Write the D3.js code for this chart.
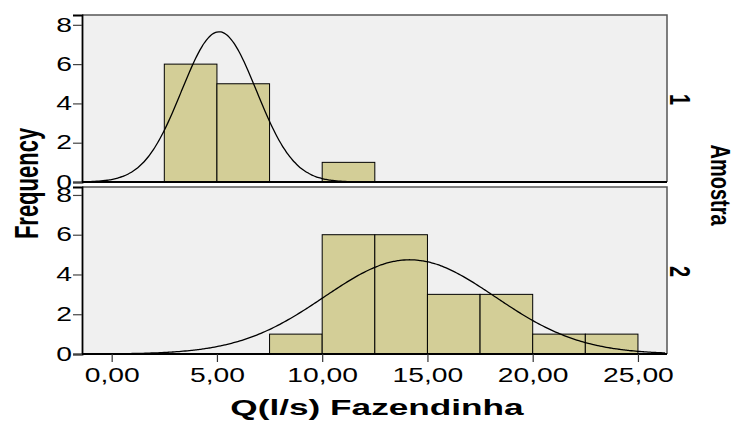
<!DOCTYPE html>
<html lang="en">
<head>
    <meta charset="UTF-8">
    <title>Q(l/s) Fazendinha por Amostra</title>
    <script src="https://d3js.org/d3.v7.min.js"></script>
    <style>
        body {
            margin: 0;
            background: #fff;
        }
        svg text {
            font-family: "Liberation Sans", Arial, sans-serif;
            fill: #000;
        }
        .panel-bg {
            fill: #f0f0f0;
        }
        .bar {
            fill: #d3ce97;
            stroke: #000;
            stroke-width: 1px;
        }
        .curve {
            fill: none;
            stroke: #000;
            stroke-width: 1.3px;
        }
    </style>
</head>
<body>
<div id="chart"></div>

<script>
    const binStarts1 = [2.5, 5, 10];
    const counts1 = [6, 5, 1];
    const binStarts2 = [7.5, 10, 12.5, 15, 17.5, 20, 22.5];
    const counts2 = [1, 6, 6, 3, 3, 1, 1];
    const binWidth = 2.5;

    // fitted normal curves (mean, sd, peak height)
    const curve1 = { mean: 5.1, sd: 1.78, peak: 7.65 };
    const curve2 = { mean: 14.16, sd: 4.06, peak: 4.74 };

    const xTicks = [0, 5, 10, 15, 20, 25];
    const yTicks = [0, 2, 4, 6, 8];
    const panelLabels = ["1", "2"];

    const width = 737, height = 426;
    const stretch = 1.45; // the original output is wide, text too

    const svg = d3.select("#chart").append("svg")
        .attr("width", width)
        .attr("height", height);

    const x = d3.scaleLinear().domain([-1.41, 26.38]).range([82, 667]);

    const panels = [
        { starts: binStarts1, counts: counts1, curve: curve1, y: d3.scaleLinear().domain([0, 8.5]).range([182, 15]), label: panelLabels[0] },
        { starts: binStarts2, counts: counts2, curve: curve2, y: d3.scaleLinear().domain([0, 8.4]).range([354, 187]), label: panelLabels[1] }
    ];

    const fmt = d3.format(",.2f");
    const commaFmt = v => fmt(v).replace(".", ",");

    panels.forEach((p, i) => {
        const g = svg.append("g");
        const [y0, y1] = p.y.range();

        g.append("rect")
            .attr("class", "panel-bg")
            .attr("x", x.range()[0])
            .attr("y", y1)
            .attr("width", x.range()[1] - x.range()[0])
            .attr("height", y0 - y1);

        g.selectAll(".bar")
            .data(p.starts.map((s, j) => ({ s: s, c: p.counts[j] })))
            .enter().append("rect")
            .attr("class", "bar")
            .attr("x", d => x(d.s))
            .attr("y", d => p.y(d.c))
            .attr("width", d => x(d.s + binWidth) - x(d.s))
            .attr("height", d => y0 - p.y(d.c));

        // normal curve sampled across the panel
        const xs = d3.range(x.domain()[0], x.domain()[1] + 0.01, 0.1);
        const line = d3.line()
            .x(v => x(v))
            .y(v => p.y(p.curve.peak * Math.exp(-0.5 * Math.pow((v - p.curve.mean) / p.curve.sd, 2))))
            .curve(d3.curveBasis);
        g.append("path")
            .attr("class", "curve")
            .attr("d", line(xs));

        // top and right frame
        g.append("path")
            .attr("d", `M${x.range()[0]},${y1}H${x.range()[1]}V${y0}`)
            .attr("fill", "none")
            .attr("stroke", "#555")
            .attr("stroke-width", 1.5);

        // y axis
        const yAxis = g.append("g")
            .attr("transform", `translate(${x.range()[0]},0)`)
            .call(d3.axisLeft(p.y).tickValues(yTicks).tickSize(9).tickPadding(0).tickFormat(d3.format("d")));
        yAxis.select(".domain").attr("stroke", "#000").attr("stroke-width", 1.8);
        yAxis.selectAll(".tick line").attr("stroke", "#444").attr("stroke-width", 1.2);
        yAxis.selectAll(".tick text")
            .attr("x", -10 / stretch)
            .attr("transform", `scale(${stretch},1)`)
            .style("font-size", "19.5px");

        // bottom baseline
        g.append("line")
            .attr("x1", x.range()[0]).attr("x2", x.range()[1])
            .attr("y1", y0).attr("y2", y0)
            .attr("stroke", "#000")
            .attr("stroke-width", 2);

        // panel label at right
        g.append("text")
            .attr("transform", `translate(670,${(y0 + y1) / 2 + 1}) scale(${stretch},1) rotate(90)`)
            .attr("text-anchor", "middle")
            .style("font-size", "20px")
            .style("font-weight", "bold")
            .text(p.label);
    });

    // x axis on bottom panel
    const xAxis = svg.append("g")
        .attr("transform", `translate(0,${panels[1].y.range()[0]})`)
        .call(d3.axisBottom(x).tickValues(xTicks).tickSize(8).tickPadding(6).tickFormat(commaFmt));
    xAxis.select(".domain").remove();
    xAxis.selectAll(".tick line").attr("stroke", "#333").attr("stroke-width", 1.2);
    xAxis.selectAll(".tick text")
        .attr("transform", `scale(${stretch},1)`)
        .style("font-size", "19.5px");

    // axis titles
    svg.append("text")
        .attr("transform", "translate(377,415) scale(1.6,1)")
        .attr("text-anchor", "middle")
        .style("font-size", "22px")
        .style("font-weight", "bold")
        .text("Q(l/s) Fazendinha");

    svg.append("text")
        .attr("transform", "translate(37.5,183.5) scale(1.52,1) rotate(-90)")
        .attr("text-anchor", "middle")
        .style("font-size", "22px")
        .style("font-weight", "bold")
        .text("Frequency");

    svg.append("text")
        .attr("transform", "translate(711,185) scale(1.35,1) rotate(90)")
        .attr("text-anchor", "middle")
        .style("font-size", "20px")
        .style("font-weight", "bold")
        .text("Amostra");
</script>
</body>
</html>
